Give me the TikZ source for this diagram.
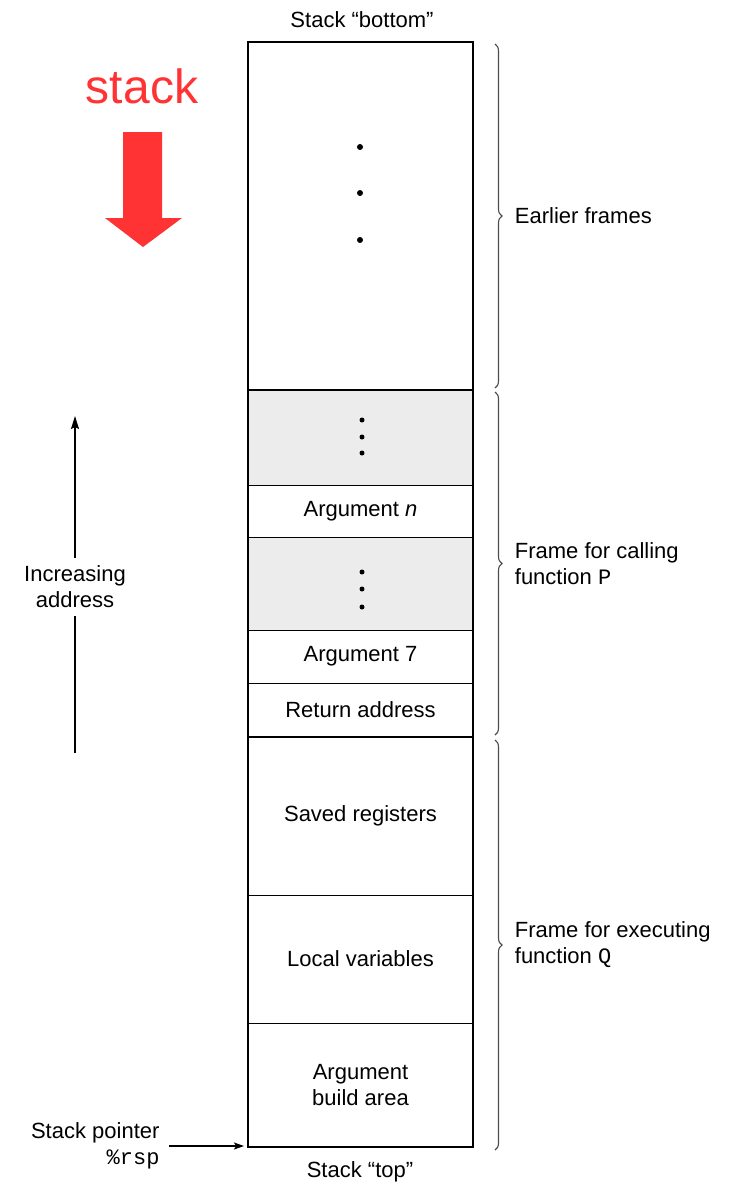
\documentclass[tikz,border=0pt]{standalone}
\usepackage{fontspec}
\setmainfont{Liberation Sans}
\setmonofont{Liberation Mono}
\usetikzlibrary{arrows.meta,decorations.pathreplacing}
\definecolor{stackred}{HTML}{FF3333}
\definecolor{cellgray}{HTML}{ECECEC}
\tikzset{
  cell/.style = {draw, line width=1pt, minimum width=225pt, inner sep=0pt, outer sep=0pt, align=center},
  graycell/.style = {cell, fill=cellgray},
  framebrace/.style = {draw=black!70, line width=1.1pt, decorate, decoration={brace, amplitude=7pt}},
  framelabel/.style = {anchor=west, align=left, xshift=16pt},
}

\begin{document}
\begin{tikzpicture}[x=1pt, y=-1pt, font=\fontsize{22}{26}\selectfont]
  \useasboundingbox (0,0) rectangle (746,1187);

  \node[cell, minimum height=348pt]     (earlier) at (360.5,216)   {};
  \node[graycell, minimum height=95pt]  (dotsn)   at (360.5,437.5) {};
  \node[cell, minimum height=52pt]      (argn)    at (360.5,511)   {\raisebox{-3pt}{Argument \textit{n}}};
  \node[graycell, minimum height=93pt]  (dotsa)   at (360.5,583.5) {};
  \node[cell, minimum height=53pt]      (argseven) at (360.5,656.5) {\raisebox{-3pt}{Argument 7}};
  \node[cell, minimum height=54pt]      (ret)     at (360.5,710)   {Return address};
  \node[cell, minimum height=158pt]     (saved)   at (360.5,816)   {Saved registers};
  \node[cell, minimum height=128pt]     (local)   at (360.5,959)   {Local variables};
  \node[cell, minimum height=124pt]     (build)   at (360.5,1085)  {Argument\\build area};

  \draw[line width=2.4pt] (earlier.north west) rectangle (build.south east)
        (earlier.south west) -- (earlier.south east)
        (ret.south west) -- (ret.south east);

  \fill (360,147) circle (3) (360,193) circle (3) (360,240) circle (3);
  \fill (362,420) circle (2.5) (362,437) circle (2.5) (362,453) circle (2.5);
  \fill (362,572) circle (2.5) (362,589) circle (2.5) (362,607) circle (2.5);

  \node (bottom) at (362,20)   {Stack “bottom”};
  \node (top)    at (360,1172) {Stack “top”};

  \draw[framebrace] ([xshift=22pt, yshift=-2pt]earlier.north east) -- ([xshift=22pt, yshift=2pt]earlier.south east)
        node[midway, framelabel] (earlierlbl) {Earlier frames};
  \draw[framebrace] ([xshift=22pt, yshift=-2pt]dotsn.north east) -- ([xshift=22pt, yshift=2pt]ret.south east)
        node[midway, framelabel] (callerlbl) {Frame for calling\\function \texttt{P}};
  \draw[framebrace] ([xshift=22pt, yshift=-3pt]saved.north east) -- ([xshift=22pt, yshift=-3pt]build.south east)
        node[midway, framelabel] (calleelbl) {Frame for executing\\function \texttt{Q}};

  \node[align=center, inner sep=8pt] (incr) at (75,587) {Increasing\\address};
  \coordinate (inctop) at (75,416);
  \coordinate (incbot) at (75,753);
  \draw[line width=1.4pt, -{Stealth[length=13pt, width=8pt, inset=2pt]}] (incr.north) -- (inctop);
  \draw[line width=1.4pt] (incr.south) -- (incbot);

  \node[align=right, anchor=east] (sp) at (163,1146) {Stack pointer\\\texttt{\%rsp}};
  \draw[line width=1.2pt, -{Stealth[length=10pt, width=7pt, inset=2pt]}, shorten <=6pt, shorten >=4pt]
        (sp.east) -- (build.south west |- sp.east);

  \node[text=stackred, font=\fontsize{48}{56}\selectfont] (stacklbl) at (142,86) {stack};
  \fill[stackred] (123,132) -- (162,132) -- (162,218) -- (182,218) -- (143,247) -- (105,218) -- (123,218) -- cycle;
\end{tikzpicture}
\end{document}
